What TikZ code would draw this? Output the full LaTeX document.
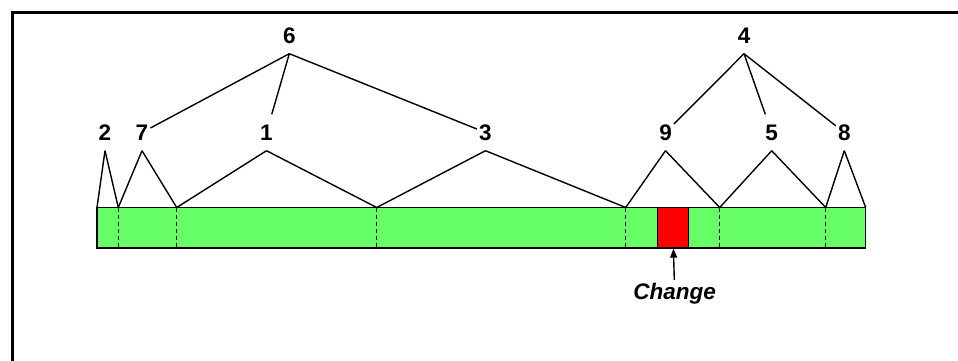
\documentclass[tikz,border=0pt]{standalone}
\usepackage{fontspec}
\setmainfont{Liberation Sans}
\usetikzlibrary{arrows.meta}

\definecolor{seqgreen}{HTML}{66FF66}
\definecolor{editred}{HTML}{FF0000}

\begin{document}
\begin{tikzpicture}[x=1pt, y=1pt, >={Triangle[length=9pt,width=7pt]},
    num/.style={font=\fontsize{22.5}{26}\selectfont\bfseries, inner xsep=2pt, inner ysep=10pt, text height=16pt, text depth=0pt},
    branch/.style={line width=1.4pt},
    seqbar/.style={draw=black, fill=seqgreen, line width=1.1pt},
    cutline/.style={line width=1.1pt, dash pattern=on 4pt off 3pt},
    editbox/.style={draw=black, fill=editred, line width=1.3pt, minimum width=31pt, minimum height=40.5pt, inner sep=0pt},
    editlabel/.style={font=\fontsize{22.5}{26}\selectfont\bfseries\itshape, inner sep=3pt}]
    \useasboundingbox (0,0) rectangle (958,360);

    % Frame
    \draw [line width=3pt] (12,-10) -- (12,348) -- (970,348);

    % Sequence bar and cut points {s0, s1, ..., s7}
    \draw [seqbar] (97,112) rectangle (865.7,152.5);
    \coordinate (s0) at (97,152.5);
    \coordinate (s1) at (118.3,152.5);
    \coordinate (s2) at (176.7,152.5);
    \coordinate (s3) at (376.7,152.5);
    \coordinate (s4) at (625.7,152.5);
    \coordinate (s5) at (719.7,152.5);
    \coordinate (s6) at (825.7,152.5);
    \coordinate (s7) at (865.7,152.5);
    \foreach \s in {s1,s2,s3,s4,s5,s6}
        \draw [cutline] (\s) -- ++(0,-40.5);

    % Changed piece
    \node [editbox]    (chg)  at (672.8,132.25)  {};
    \node [editlabel, anchor=north] (lbl) at (674.7,80) {Change};

    % Nodes {6, 4, 2, 7, 1, 3, 9, 5, 8}
    \node [num]  (n6)  at (289.3,324.5)  {6};
    \node [num]  (n4)  at (744,324.5)    {4};
    \node [num]  (n2)  at (105,227.5)    {2};
    \node [num]  (n7)  at (142,227.5)    {7};
    \node [num]  (n1)  at (266.5,227.5)  {1};
    \node [num]  (n3)  at (485.5,227.5)  {3};
    \node [num]  (n9)  at (665.5,227.5)  {9};
    \node [num]  (n5)  at (771.7,227.5)  {5};
    \node [num]  (n8)  at (844.3,227.5)  {8};

    % Paths
    \path [branch] (n6.south) edge (n7) edge (n1) edge (n3);
    \path [branch] (n4.south) edge (n9) edge (n5) edge (n8);
    \path [branch] (n2.south) edge (s0) edge (s1);
    \path [branch] (n7.south) edge (s1) edge (s2);
    \path [branch] (n1.south) edge (s2) edge (s3);
    \path [branch] (n3.south) edge (s3) edge (s4);
    \path [branch] (n9.south) edge (s4) edge (s5);
    \path [branch] (n5.south) edge (s5) edge (s6);
    \path [branch] (n8.south) edge (s6) edge (s7);
    \path [branch, ->] (lbl) edge (chg);

\end{tikzpicture}
\end{document}
